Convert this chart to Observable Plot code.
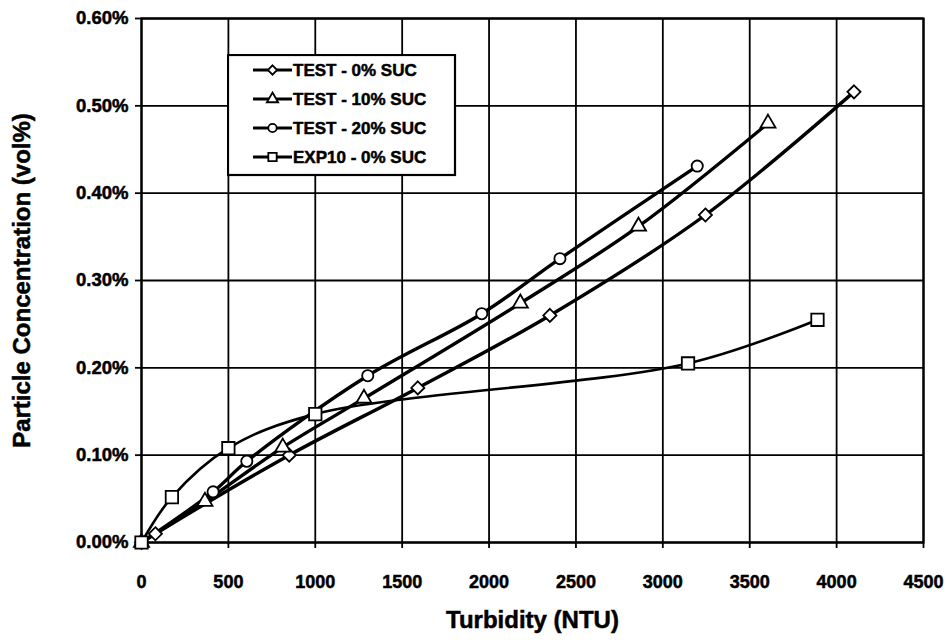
<!DOCTYPE html>
<html>
<head>
<meta charset="utf-8">
<script src="https://cdn.jsdelivr.net/npm/d3@7"></script>
<script src="https://cdn.jsdelivr.net/npm/@observablehq/plot@0.6"></script>
<style>
  html, body { margin: 0; padding: 0; background: #fff; }
  #chart { position: relative; width: 951px; height: 642px; overflow: hidden; }
  #chart svg text { font-family: "Liberation Sans", Arial, sans-serif; font-weight: bold; fill: #000; stroke: #000; stroke-width: 0.5px; paint-order: stroke; }
  #legend { position: absolute; left: 227px; top: 54px; }
</style>
</head>
<body>
<div id="chart"></div>
<script>
// Particle concentration (vol%) against turbidity (NTU), four sample series
const seriesNames = ["TEST - 0% SUC", "TEST - 10% SUC", "TEST - 20% SUC", "EXP10 - 0% SUC"];

const test0Turbidity = [0, 80, 850, 1590, 2350, 3245, 4100];
const test0Conc      = [0, 0.010, 0.100, 0.177, 0.260, 0.375, 0.516];

const test10Turbidity = [0, 365, 813, 1280, 2180, 2860, 3605];
const test10Conc      = [0, 0.047, 0.109, 0.165, 0.274, 0.362, 0.480];

const test20Turbidity = [0, 412, 606, 1302, 1958, 2408, 3198];
const test20Conc      = [0, 0.058, 0.093, 0.191, 0.262, 0.325, 0.431];

const exp10Turbidity = [0, 175, 500, 1000, 3145, 3890];
const exp10Conc      = [0, 0.052, 0.108, 0.147, 0.205, 0.255];

const xTicks = [0, 500, 1000, 1500, 2000, 2500, 3000, 3500, 4000, 4500];
const yTicks = [0, 0.1, 0.2, 0.3, 0.4, 0.5, 0.6];
const xTitle = "Turbidity (NTU)";
const yTitle = "Particle Concentration (vol%)";

const plotSymbols = ["diamond2", "triangle", "circle", "square"];
const d3Symbols = [d3.symbolDiamond2, d3.symbolTriangle, d3.symbolCircle, d3.symbolSquare];
const markerR = [5.9, 5.6, 5.6, 7.0];
const lineWidths = [3.4, 3.4, 3.4, 2.6];

const toRows = (name, xs, ys) => xs.map((x, i) => ({series: name, turbidity: x, conc: ys[i]}));
const seriesRows = [
  toRows(seriesNames[0], test0Turbidity, test0Conc),
  toRows(seriesNames[1], test10Turbidity, test10Conc),
  toRows(seriesNames[2], test20Turbidity, test20Conc),
  toRows(seriesNames[3], exp10Turbidity, exp10Conc)
];

const lineMarks = seriesRows.map((rows, k) =>
  Plot.line(rows, {x: "turbidity", y: "conc", curve: "catmull-rom", stroke: "#000", strokeWidth: lineWidths[k]})
);
const dotMarks = seriesRows.map((rows, k) =>
  Plot.dot(rows, {x: "turbidity", y: "conc", symbol: () => plotSymbols[k], r: markerR[k], fill: "#fff", stroke: "#000", strokeWidth: 1.8})
);

const chart = Plot.plot({
  width: 951,
  height: 642,
  marginLeft: 141,
  marginRight: 28,
  marginTop: 18,
  marginBottom: 100,
  style: {background: "#fff", color: "#000"},
  x: {domain: [0, 4500]},
  y: {domain: [0, 0.6]},
  symbol: {type: "identity"},
  marks: [
    Plot.gridX(xTicks, {stroke: "#000", strokeOpacity: 1, strokeWidth: 1.8}),
    Plot.gridY(yTicks, {stroke: "#000", strokeOpacity: 1, strokeWidth: 1.8}),
    Plot.frame({stroke: "#000", strokeWidth: 2.2}),
    Plot.axisX(xTicks, {tickSize: 6, tickPadding: 27, fontSize: 18, label: null, tickFormat: d => String(d), strokeWidth: 1.8}),
    Plot.axisY(yTicks, {tickSize: 6, tickPadding: 7, fontSize: 18.5, label: null, tickFormat: d => d.toFixed(2) + "%", strokeWidth: 1.8}),
    Plot.text([xTitle], {text: d => d, frameAnchor: "bottom", dy: 78, lineAnchor: "middle", textAnchor: "middle", fontSize: 24, fontWeight: "bold"}),
    Plot.text([yTitle], {text: d => d, frameAnchor: "left", dx: -119, rotate: -90, lineAnchor: "middle", textAnchor: "middle", fontSize: 24, fontWeight: "bold"}),
    ...lineMarks,
    ...dotMarks
  ]
});
document.getElementById("chart").appendChild(chart);

// Legend box drawn over the plot area
const legend = d3.select("#chart").append("svg")
  .attr("id", "legend")
  .attr("width", 230)
  .attr("height", 123);
legend.append("rect")
  .attr("x", 1).attr("y", 1).attr("width", 227).attr("height", 120)
  .attr("fill", "#fff").attr("stroke", "#000").attr("stroke-width", 2.2);
seriesNames.forEach((name, k) => {
  const cy = 16 + k * 29;
  const g = legend.append("g");
  g.append("line")
    .attr("x1", 26).attr("x2", 65).attr("y1", cy).attr("y2", cy)
    .attr("stroke", "#000").attr("stroke-width", 3.2);
  g.append("path")
    .attr("transform", `translate(45.5,${cy})`)
    .attr("d", d3.symbol(d3Symbols[k], k === 3 ? 70 : 55)())
    .attr("fill", "#fff").attr("stroke", "#000").attr("stroke-width", 1.8);
  g.append("text")
    .attr("x", 66).attr("y", cy).attr("dy", "0.36em")
    .attr("font-size", 17)
    .text(name);
});
</script>
</body>
</html>
